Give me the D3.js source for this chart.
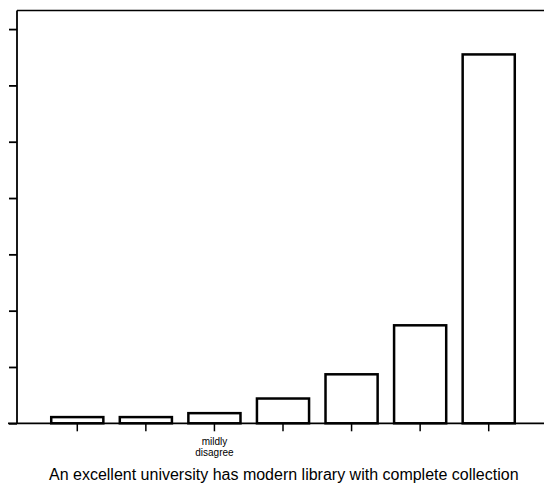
<!DOCTYPE html>
<html>
<head>
<meta charset="utf-8">
<script src="https://cdn.jsdelivr.net/npm/d3@7"></script>
<style>
  html, body { margin: 0; padding: 0; background: #fff; }
  svg { display: block; }
</style>
</head>
<body>
<svg id="chart"></svg>
<script>
const categories = ["strongly disagree", "disagree", "mildly disagree", "neutral", "mildly agree", "agree", "strongly agree"];
const tickLabels = ["", "", "mildly disagree", "", "", "", ""];
const values = [1.1, 1.1, 1.8, 4.4, 8.7, 17.4, 65.5];
const yTicks = [0, 10, 20, 30, 40, 50, 60, 70];
const title = "An excellent university has modern library with complete collection";

const width = 544, height = 483;
const svg = d3.select("#chart").attr("width", width).attr("height", height);

const plotLeft = 17, plotTop = 10.5, base = 423.3;

const x = d3.scaleBand()
  .domain(categories)
  .range([43, 523])
  .paddingInner(0.24)
  .paddingOuter(0.12);

const y = d3.scaleLinear().domain([0, 73.3]).range([base, plotTop]);

// frame: top line
svg.append("line")
  .attr("x1", plotLeft).attr("y1", plotTop).attr("x2", width).attr("y2", plotTop)
  .attr("stroke", "#000").attr("stroke-width", 1.5);

// bars
svg.selectAll("rect.bar")
  .data(values)
  .join("rect")
  .attr("class", "bar")
  .attr("x", (d, i) => x(categories[i]))
  .attr("y", d => y(d))
  .attr("width", x.bandwidth())
  .attr("height", d => base - y(d))
  .attr("fill", "#fff")
  .attr("stroke", "#000")
  .attr("stroke-width", 2.5);

// y axis
const yAxis = svg.append("g")
  .attr("transform", `translate(${plotLeft},0)`)
  .call(d3.axisLeft(y).tickValues(yTicks).tickSize(8).tickFormat(""));
yAxis.select(".domain").remove();
yAxis.selectAll(".tick line").attr("stroke", "#000").attr("stroke-width", 1.8);
svg.append("line")
  .attr("x1", plotLeft).attr("y1", plotTop).attr("x2", plotLeft).attr("y2", base)
  .attr("stroke", "#000").attr("stroke-width", 1.8);

// x axis
const xAxis = svg.append("g")
  .attr("transform", `translate(0,${base})`)
  .call(d3.axisBottom(x).tickSize(8).tickPadding(7).tickFormat((d, i) => tickLabels[i]));
xAxis.select(".domain").remove();
xAxis.selectAll(".tick line").attr("stroke", "#000").attr("stroke-width", 1.5);
xAxis.selectAll(".tick text")
  .attr("font-family", "Liberation Sans, Arial, sans-serif")
  .attr("font-size", 10)
  .attr("fill", "#000")
  .each(function(d, i) {
    const t = d3.select(this);
    const words = tickLabels[i].split(" ");
    t.text(null);
    if (!tickLabels[i]) return;
    words.forEach((w, j) => {
      t.append("tspan").attr("x", 0).attr("dy", j === 0 ? "0.71em" : "1.1em").text(w);
    });
  });
svg.append("line")
  .attr("x1", 8).attr("y1", base).attr("x2", width).attr("y2", base)
  .attr("stroke", "#000").attr("stroke-width", 1.8);

// title
svg.append("text")
  .attr("x", 49)
  .attr("y", 480)
  .attr("font-family", "Liberation Sans, Arial, sans-serif")
  .attr("font-size", 16)
  .attr("fill", "#000")
  .text(title);
</script>
</body>
</html>
